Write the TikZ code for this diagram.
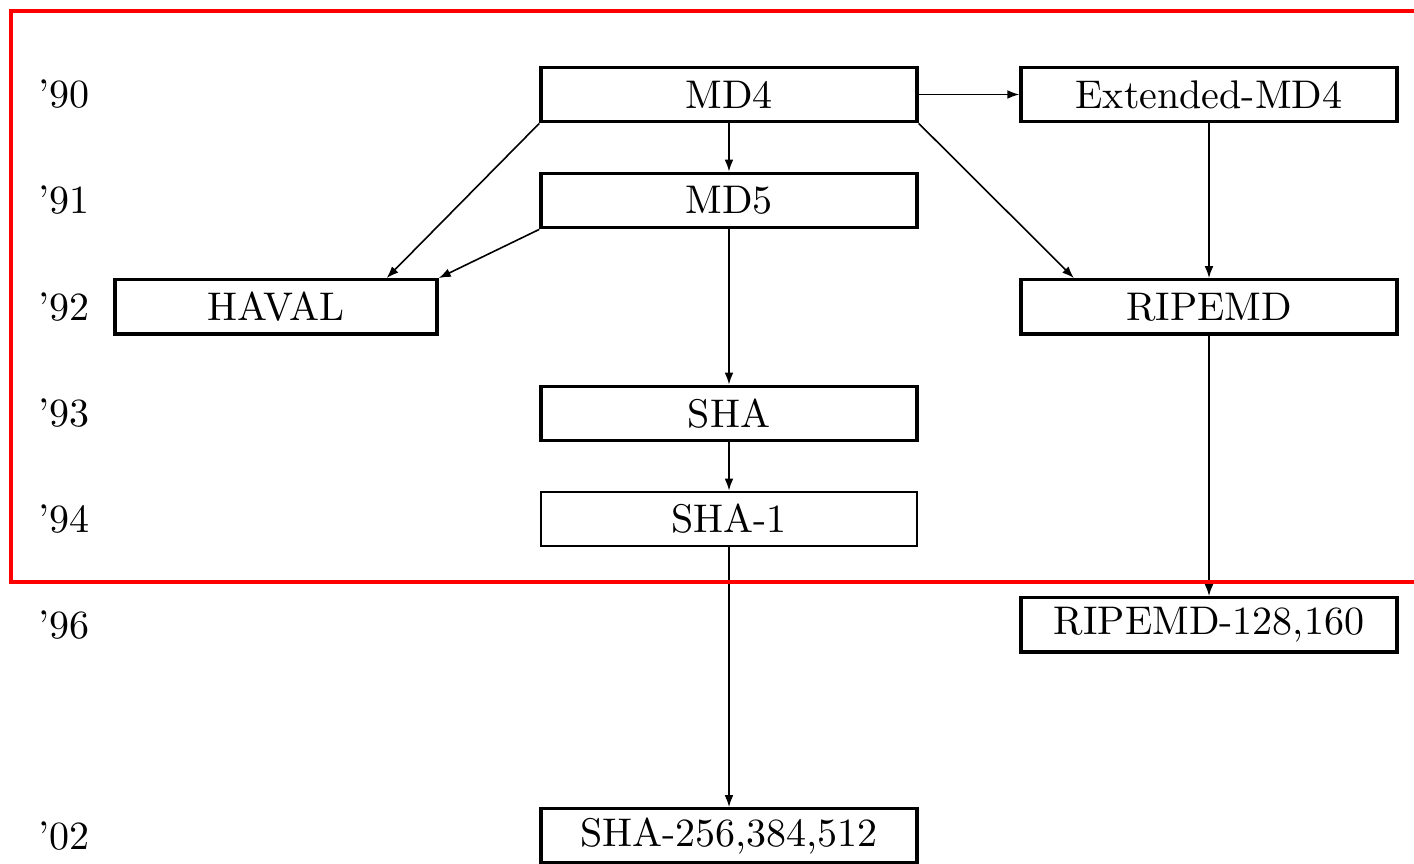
\documentclass[tikz,border=0pt]{standalone}
\usetikzlibrary{arrows.meta,calc}
\begin{document}
\begin{tikzpicture}[x=0.25pt,y=-0.25pt,
  hashbox/.style={draw=black,line width=0.85pt,fill=white,inner sep=0pt,
    minimum width=94pt,minimum height=13.6pt,font=\normalsize},
  widebox/.style={hashbox,minimum width=80.5pt},
  year/.style={inner sep=0pt,anchor=center},
  link/.style={line width=0.4pt,-{Latex[length=3pt,width=2.2pt]}}]
\useasboundingbox (0,0) rectangle (1414,864);
\fill[white] (0,0) rectangle (1414,864);

% year labels
\node[year] (y90) at (64,94) {'90};
\node[year] (y91) at (64,200) {'91};
\node[year] (y92) at (64,307) {'92};
\node[year] (y93) at (64,413) {'93};
\node[year] (y94) at (64,519) {'94};
\node[year] (y96) at (64,625) {'96};
\node[year] (y02) at (64,836) {'02};

% hash functions
\node[hashbox] (md4) at (729,94.5) {MD4};
\node[hashbox] (emd4) at (1209,94.5) {Extended-MD4};
\node[hashbox] (md5) at (729,200.5) {MD5};
\node[widebox] (haval) at (276,307) {HAVAL};
\node[hashbox] (ripemd) at (1209,307) {RIPEMD};
\node[hashbox] (sha) at (729,413.5) {SHA};
\node[hashbox,line width=0.6pt] (sha1) at (729,519) {SHA-1};
\node[hashbox] (ripemdx) at (1209,625) {RIPEMD-128,160};
\node[hashbox] (sha2) at (729,836) {SHA-256,384,512};

% lineage
\coordinate (havalin) at ($(haval.north west)!0.84!(haval.north east)$);
\coordinate (ripemdin) at ($(ripemd.north west)!0.144!(ripemd.north east)$);
\draw[link] (md4) -- (emd4);
\draw[link] (md4) -- (md5);
\draw[link] (md4.south west) -- (havalin);
\draw[link] (md5.south west) -- (haval.north east);
\draw[link] (md4.south east) -- (ripemdin);
\draw[link] (emd4) -- (ripemd);
\draw[link] (md5) -- (sha);
\draw[link] (sha) -- (sha1);
\draw[link] (sha1) -- (sha2);
\draw[link] (ripemd) -- (ripemdx);

% highlighted period
\draw[red,line width=1pt] (11,11) rectangle (1430,582);
\end{tikzpicture}
\end{document}
